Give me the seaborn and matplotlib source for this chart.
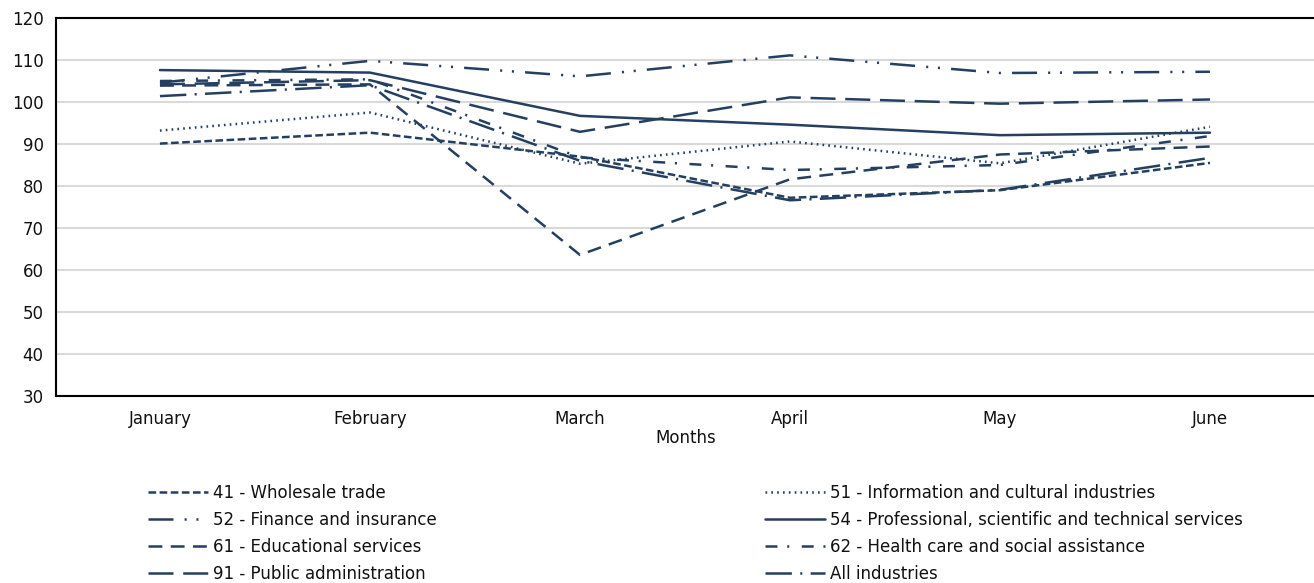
import matplotlib
matplotlib.use("Agg")
import matplotlib.pyplot as plt
import seaborn as sns
import pandas as pd

# Monthly index values by industry (January to June)
months = ["January", "February", "March", "April", "May", "June"]
wholesale = [90.1, 92.7, 87.0, 77.2, 79.0, 85.5]
information = [93.2, 97.5, 85.3, 90.6, 85.4, 94.1]
finance = [104.6, 109.8, 106.1, 111.1, 106.9, 107.2]
professional = [107.6, 107.0, 96.7, 94.6, 92.1, 92.7]
educational = [103.9, 104.2, 63.6, 81.6, 87.5, 89.4]
health = [105.0, 105.4, 86.8, 83.8, 85.0, 91.9]
public_admin = [104.2, 105.2, 92.9, 101.1, 99.6, 100.6]
all_industries = [101.4, 104.0, 86.0, 76.6, 79.1, 86.7]

series_names = [
    "41 - Wholesale trade",
    "51 - Information and cultural industries",
    "52 - Finance and insurance",
    "54 - Professional, scientific and technical services",
    "61 - Educational services",
    "62 - Health care and social assistance",
    "91 - Public administration",
    "All industries",
]
series_values = [wholesale, information, finance, professional,
                 educational, health, public_admin, all_industries]

# Dash patterns in points (on, off, ...); None means a solid line
dash_styles = [
    (5.5, 2.5),
    (1.2, 3.0),
    (18, 8, 1.5, 7, 1.5, 8),
    None,
    (10, 6),
    (8.6, 7, 1.5, 9),
    (18, 7),
    (19, 6, 1.5, 6),
]

line_color = "#243f60"
text_color = "#111111"

sns.set_theme(style="white")
plt.rcParams["font.family"] = ["DejaVu Sans"]
plt.rcParams["lines.scale_dashes"] = False
plt.rcParams["text.color"] = text_color
plt.rcParams["axes.labelcolor"] = text_color
plt.rcParams["xtick.color"] = text_color
plt.rcParams["ytick.color"] = text_color

fig = plt.figure(figsize=(13.14, 5.83), dpi=100)
ax = fig.add_axes([56 / 1314, 187 / 583, 1260 / 1314, 378 / 583])

positions = list(range(len(months)))
handles = []
for name, vals, dash in zip(series_names, series_values, dash_styles):
    df = pd.DataFrame({"pos": positions, "value": vals})
    sns.lineplot(data=df, x="pos", y="value", ax=ax, color=line_color,
                 linewidth=1.8, label=name, legend=False)
    line = ax.lines[-1]
    line.set_dash_capstyle("butt")
    if dash is not None:
        line.set_dashes(dash)
    handles.append(line)

if ax.get_legend() is not None:
    ax.get_legend().remove()

ax.set_xlim(-0.495, 5.505)
ax.set_ylim(30, 120)
ax.set_yticks(range(30, 121, 10))
ax.set_xticks(positions)
ax.set_xticklabels(months)
ax.set_xlabel("Months", fontsize=12, labelpad=1)
ax.set_ylabel("")

ax.yaxis.grid(True, color="#d9d9d9", linewidth=1.5)
ax.xaxis.grid(False)
ax.set_axisbelow(True)

for side in ["left", "bottom", "top"]:
    ax.spines[side].set_visible(True)
    ax.spines[side].set_color("black")
    ax.spines[side].set_linewidth(1.5)
ax.spines["right"].set_visible(False)

ax.tick_params(axis="x", direction="in", length=5, width=1, color="black",
               labelsize=12, pad=10)
ax.tick_params(axis="y", length=0, labelsize=12, pad=9)

# Two-column legend beneath the chart
left_idx = [0, 2, 4, 6]
right_idx = [1, 3, 5, 7]
legend_kw = dict(loc="upper left", frameon=False, fontsize=12,
                 handlelength=3.6, handletextpad=0.3, labelspacing=0.54,
                 borderpad=0, borderaxespad=0)
fig.legend([handles[i] for i in left_idx], [series_names[i] for i in left_idx],
           bbox_to_anchor=(148 / 1314, 1 - 484 / 583), **legend_kw)
fig.legend([handles[i] for i in right_idx], [series_names[i] for i in right_idx],
           bbox_to_anchor=(765 / 1314, 1 - 484 / 583), **legend_kw)

fig.savefig("out.png", dpi=100)
